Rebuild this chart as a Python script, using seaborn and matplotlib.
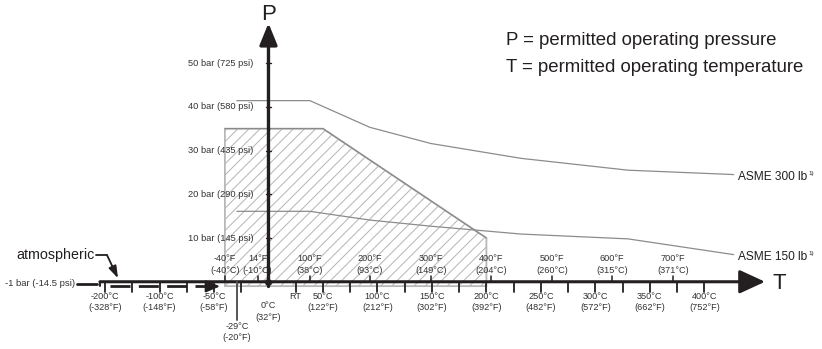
import matplotlib
matplotlib.use("Agg")
import matplotlib.pyplot as plt
import numpy as np
import pandas as pd
import seaborn as sns

# ---- data -------------------------------------------------------------
# Temperature positions are in degC along the axis; the axis is broken
# left of -100 degC, so the -200 degC mark sits at position -150.
asme300_t = [-29, 38, 93, 149, 232, 330, 427]
asme300_p = [41.4, 41.4, 35.3, 31.6, 28.2, 25.5, 24.5]
asme150_t = [-29, 38, 93, 149, 232, 330, 427]
asme150_p = [16.1, 16.1, 14.1, 12.7, 10.9, 9.8, 6.2]

envelope_t = [-40, -40, 50, 200, 200]
envelope_p = [-1, 35, 35, 10, -1]

p_ticks = [10, 20, 30, 40, 50]
p_labels = ["10 bar (145 psi)", "20 bar (290 psi)", "30 bar (435 psi)",
            "40 bar (580 psi)", "50 bar (725 psi)"]

below_pos = [-150, -100, -50, 50, 100, 150, 200, 250, 300, 350, 400]
below_c = ["-200°C", "-100°C", "-50°C", "50°C", "100°C", "150°C", "200°C",
           "250°C", "300°C", "350°C", "400°C"]
below_f = ["(-328°F)", "(-148°F)", "(-58°F)", "(122°F)", "(212°F)", "(302°F)",
           "(392°F)", "(482°F)", "(572°F)", "(662°F)", "(752°F)"]

above_pos = [-40, -10, 38, 93, 149, 204, 260, 315, 371]
above_f = ["-40°F", "14°F", "100°F", "200°F", "300°F", "400°F", "500°F",
           "600°F", "700°F"]
above_c = ["(-40°C)", "(-10°C)", "(38°C)", "(93°C)", "(149°C)", "(204°C)",
           "(260°C)", "(315°C)", "(371°C)"]

minor_pos = list(range(-150, 401, 25))
rt_pos = 25
min_temp_pos = -29

# ---- style ------------------------------------------------------------
sns.set_theme(style="white")
plt.rcParams["font.family"] = ["Liberation Sans", "DejaVu Sans"]
plt.rcParams["hatch.color"] = "#b8b8b8"
plt.rcParams["hatch.linewidth"] = 0.75
INK = "#231f20"
GREY = "#8c8c8c"
SMALL = "#333333"

fig = plt.figure(figsize=(8.22, 3.49), dpi=100)
ax = fig.add_axes([0, 0, 1, 1])
ax.set_xlim(-246.4, 508.0)
ax.set_ylim(-15.37, 64.4)
ax.axis("off")

# permitted operating envelope
ax.fill(envelope_t, envelope_p, facecolor="none", hatch="///",
        edgecolor="#b8b8b8", lw=1.3, zorder=1)
ax.plot(envelope_t[1:4], envelope_p[1:4], color="#8a8a8a", lw=0.9, zorder=2)

# flange rating curves
asme = pd.DataFrame({
    "temp": asme300_t + asme150_t,
    "pressure": asme300_p + asme150_p,
    "rating": ["ASME 300 lb"] * len(asme300_t) + ["ASME 150 lb"] * len(asme150_t),
})
sns.lineplot(data=asme, x="temp", y="pressure", hue="rating", sort=False,
             palette=[GREY, GREY], legend=False, lw=0.9, ax=ax, zorder=2)

for label, t_end, p_end in [("ASME 300 lb", asme300_t[-1], asme300_p[-1]),
                            ("ASME 150 lb", asme150_t[-1], asme150_p[-1])]:
    txt = ax.text(t_end + 4, p_end - 0.6, label, fontsize=8.6,
                  ha="left", va="center", color=INK)
    ax.annotate("1)", xy=(1.0, 1.0), xycoords=txt, xytext=(0.5, 0),
                textcoords="offset points", fontsize=4.5, ha="left", va="top",
                color=INK)

# temperature axis
ax.annotate("", xy=(455.7, 0), xytext=(-154.7, 0),
            arrowprops=dict(arrowstyle="-|>,head_length=1.3,head_width=0.6",
                            lw=2.2, color=INK, shrinkA=0, shrinkB=0), zorder=5)
ax.plot([-154.7, -154.7], [0, -1.0], color=INK, lw=1.4, zorder=5)
ax.text(463, -0.3, "T", fontsize=16, ha="left", va="center", color=INK)

# pressure axis
ax.plot([0, 0], [-1, 0], color=INK, lw=2.4, zorder=5)
ax.annotate("", xy=(0, 59.1), xytext=(0, 0),
            arrowprops=dict(arrowstyle="-|>,head_length=1.1,head_width=0.45",
                            lw=2.4, color=INK, shrinkA=0, shrinkB=0), zorder=5)
ax.text(0, 61.0, "P", fontsize=16, ha="center", va="center", color=INK)
ax.plot([0], [0], marker="o", ms=4, color=INK, zorder=6)

for p, lab in zip(p_ticks, p_labels):
    ax.plot([-2.6, 2.6], [p, p], color=INK, lw=1.0, zorder=6)
    ax.text(-14.2, p, lab, fontsize=6.7, ha="right", va="center", color=SMALL)

# tick marks on the temperature axis
for t in minor_pos:
    if t == 0:
        continue
    ax.plot([t, t], [0, -2.3], color=INK, lw=1.3, zorder=5)
for t in above_pos:
    ax.plot([t, t], [0, 1.4], color=INK, lw=1.1, zorder=5)
ax.plot([min_temp_pos, min_temp_pos], [0, -8.7], color="#555555", lw=1.4, zorder=5)

# Celsius labels below, Fahrenheit labels above
for t, c, f in zip(below_pos, below_c, below_f):
    ax.text(t, -2.3, f"{c}\n{f}", fontsize=6.6, ha="center", va="top",
            linespacing=1.35, color=SMALL)
ax.text(rt_pos, -2.3, "RT", fontsize=6.6, ha="center", va="top", color=SMALL)
ax.text(0, -4.5, "0°C\n(32°F)", fontsize=6.6, ha="center", va="top",
        linespacing=1.35, color=SMALL)
ax.text(min_temp_pos, -9.2, "-29°C\n(-20°F)", fontsize=6.6, ha="center",
        va="top", linespacing=1.35, color=SMALL)
for t, f, c in zip(above_pos, above_f, above_c):
    ax.text(t, 1.6, f"{f}\n{c}", fontsize=6.6, ha="center", va="bottom",
            linespacing=1.35, color=SMALL)

# vacuum line at -1 bar
ax.plot([-145.5, -50], [-1.05, -1.05], color=INK, lw=2.0,
        dashes=(7.2, 3.0), zorder=4)
ax.annotate("", xy=(-44.5, -1.05), xytext=(-52, -1.05),
            arrowprops=dict(arrowstyle="-|>,head_length=0.7,head_width=0.3",
                            lw=1.5, color=INK, shrinkA=0, shrinkB=0), zorder=4)
ax.text(-177.5, -0.4, "-1 bar (-14.5 psi)", fontsize=6.8, ha="right",
        va="center", color=SMALL)
ax.plot([-175.8, -157.4], [-0.4, -0.4], color=INK, lw=2.0)

ax.text(-160, 6.1, "atmospheric", fontsize=10.3, ha="right",
        va="center", color=INK)
ax.plot([-157.9, -148.2], [6.1, 6.1], color=INK, lw=1.3)
ax.annotate("", xy=(-138.1, 0.8), xytext=(-148.2, 6.1),
            arrowprops=dict(arrowstyle="-|>,head_length=0.6,head_width=0.2",
                            lw=1.3, color=INK, shrinkA=0, shrinkB=0))

# definitions
ax.text(218, 55.1, "P = permitted operating pressure",
        fontsize=13.4, ha="left", va="center", color=INK)
ax.text(218, 48.9, "T = permitted operating temperature",
        fontsize=13.4, ha="left", va="center", color=INK)

fig.savefig("out.png", dpi=100)
